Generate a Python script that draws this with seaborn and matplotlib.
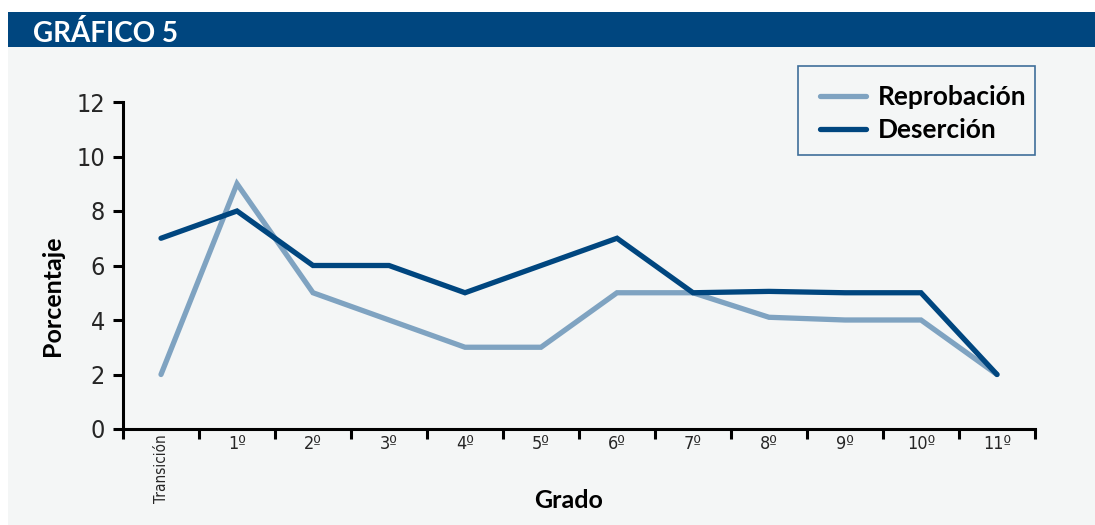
import matplotlib
matplotlib.use("Agg")
import matplotlib.pyplot as plt
from matplotlib import font_manager
from matplotlib.patches import Rectangle
from matplotlib.lines import Line2D
import seaborn as sns
import pandas as pd

# ---- data ----
grados = ["Transición", "1º", "2º", "3º", "4º", "5º", "6º", "7º", "8º", "9º", "10º", "11º"]
reprobacion = [2, 9, 5, 4, 3, 3, 5, 5, 4.1, 4, 4, 2]
desercion = [7, 8, 6, 6, 5, 6, 7, 5, 5.05, 5, 5, 2]
series_names = ["Reprobación", "Deserción"]
y_ticks = [0, 2, 4, 6, 8, 10, 12]

DARK = "#00467F"
LIGHT = "#7FA3C1"
PANEL = "#F4F6F6"

sns.set_theme(style="white")
fonts = font_manager.fontManager.ttflist
names = {f.name for f in fonts}
cond = [f for f in fonts if "Condensed" in f.fname or "Narrow" in f.fname or f.stretch in ("condensed", "semi-condensed")]
narrow_family = cond[0].name if cond else "DejaVu Sans"
narrow_stretch = "condensed" if cond else "normal"
bold_family = ["Lato", "DejaVu Sans"] if "Lato" in names else ["DejaVu Sans"]
plt.rcParams["font.family"] = ["DejaVu Sans"]

df = pd.DataFrame({
    "pos": list(range(len(grados))) * 2,
    "valor": reprobacion + desercion,
    "serie": [series_names[0]] * len(grados) + [series_names[1]] * len(grados),
})

W, H = 1095, 525
fig = plt.figure(figsize=(W / 100, H / 100), dpi=100)
fig.patch.set_facecolor("white")
# panel background and header bar
fig.add_artist(Rectangle((8 / W, 0), 1, (H - 47) / H, transform=fig.transFigure,
                         facecolor=PANEL, edgecolor="none", zorder=-10))
fig.add_artist(Rectangle((8 / W, (H - 47) / H), 1, 35 / H, transform=fig.transFigure,
                         facecolor=DARK, edgecolor="none", zorder=-10))
fig.text(33 / W, (H - 33) / H, "GRÁFICO 5", color="white", fontsize=20,
         fontweight="bold", family=bold_family, va="center", ha="left")

ax = fig.add_axes([123 / W, (H - 429) / H, (1035 - 123) / W, (429 - 102) / H])
ax.set_facecolor("none")
ax.set_zorder(5)

sns.lineplot(data=df, x="pos", y="valor", hue="serie",
             palette={series_names[0]: LIGHT, series_names[1]: DARK},
             linewidth=3.8, sort=False, ax=ax, legend=False)
for ln in ax.lines:
    ln.set_solid_joinstyle("miter")
    ln.set_solid_capstyle("round")
    ln.set_clip_on(False)

ax.set_xlim(-0.5, len(grados) - 0.5)
ax.set_ylim(0, 12)
ax.set_yticks(y_ticks)
ax.set_yticklabels([str(v) for v in y_ticks], family=narrow_family, fontstretch=narrow_stretch, fontsize=18)

# boundaries as major ticks, labels on minor ticks
ax.set_xticks([i - 0.5 for i in range(len(grados) + 1)])
ax.set_xticklabels([])
ax.set_xticks(list(range(len(grados))), minor=True)
ax.set_xticklabels(grados, minor=True, family=narrow_family, fontstretch=narrow_stretch, fontsize=13)
first = ax.get_xticklabels(minor=True)[0]
first.set_rotation(90)
first.set_fontsize(11)
first.set_va("top")

ax.tick_params(axis="x", which="major", direction="out", length=7, width=2.2, color="black", bottom=True)
ax.tick_params(axis="x", which="minor", length=0, pad=4, bottom=True)
ax.tick_params(axis="y", direction="out", length=7, width=2.2, color="black", left=True, pad=6)

for s in ["top", "right"]:
    ax.spines[s].set_visible(False)
for s in ["left", "bottom"]:
    ax.spines[s].set_color("black")
    ax.spines[s].set_linewidth(2.2)

ax.set_xlabel("")
ax.set_ylabel("")
fig.text(569 / W, (H - 500) / H, "Grado", fontsize=18, fontweight="bold", family=bold_family,
         ha="center", va="center", color="black")
fig.text(52 / W, (H - 296) / H, "Porcentaje", fontsize=18, fontweight="bold", family=bold_family,
         ha="center", va="center", rotation=90, color="black")

# legend box
fig.add_artist(Rectangle((798 / W, (H - 155) / H), (1035 - 798) / W, (155 - 66) / H,
                         transform=fig.transFigure, facecolor="none", edgecolor="#3F6F9A",
                         linewidth=1.2, zorder=6))
handles = [Line2D([0], [0], color=LIGHT, lw=3.8, solid_capstyle="round"),
           Line2D([0], [0], color=DARK, lw=3.8, solid_capstyle="round")]
leg = fig.legend(handles, series_names, loc="center left",
                 bbox_to_anchor=(820 / W, (H - 113.5) / H),
                 frameon=False, handlelength=1.75, handletextpad=0.45,
                 borderpad=0, borderaxespad=0, labelspacing=0.35,
                 prop={"family": bold_family, "weight": "bold", "size": 19})
for t in leg.get_texts():
    t.set_color("black")

fig.savefig("out.png", dpi=100, facecolor=fig.get_facecolor())
